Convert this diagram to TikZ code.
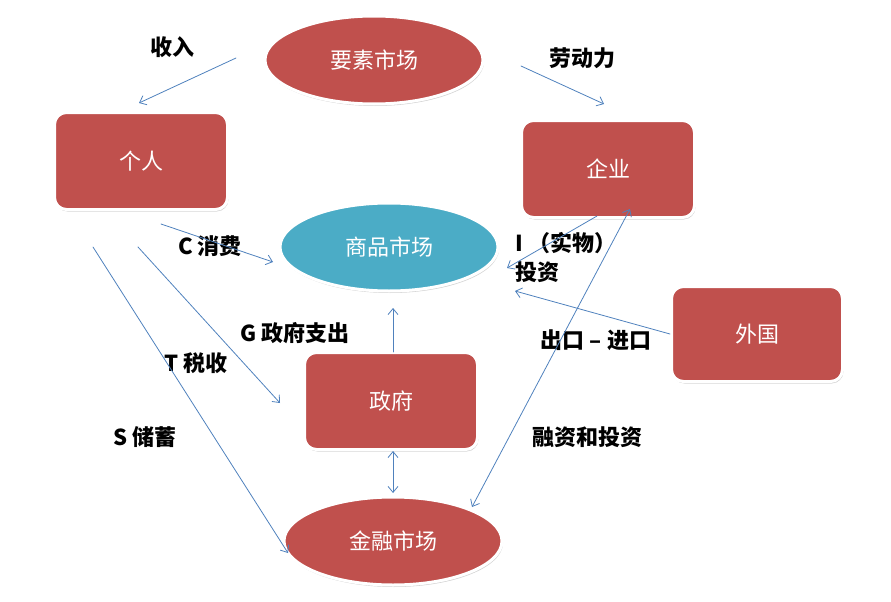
\documentclass[tikz,border=0pt]{standalone}
\usepackage{fontspec}
\setmainfont{Noto Sans CJK SC}
\usetikzlibrary{arrows.meta,shadows,shapes.geometric}
\definecolor{boxred}{HTML}{C0504D}
\definecolor{mktteal}{HTML}{4BACC6}
\definecolor{flowblue}{HTML}{4F81BD}
\begin{document}
\begin{tikzpicture}[x=1pt,y=-1pt,line join=round,line cap=round,>={Straight Barb[length=6pt,width=10pt]}]
\tikzset{every node/.style={font=\fontsize{22}{29}\selectfont},
  box/.style={draw=white,line width=3pt,fill=boxred,rounded corners=12pt,minimum width=173pt,minimum height=97pt,text=white,
    drop shadow={shadow xshift=1pt,shadow yshift=-2pt,opacity=0.35}},
  mkt/.style={ellipse,draw=white,line width=3pt,fill=boxred,minimum width=218pt,minimum height=88pt,inner sep=0pt,text=white,
    drop shadow={shadow xshift=1pt,shadow yshift=-2pt,opacity=0.35}},
  flow/.style={draw=flowblue,line width=0.8pt},
  lbl/.style={font=\fontsize{22}{29}\selectfont\bfseries}}
\useasboundingbox (0,0) rectangle (891,602);
% markets
\node[mkt] (yaosu) at (374,60) {要素市场};
\node[mkt,fill=mktteal] (shangpin) at (389,247) {商品市场};
\node[mkt] (jinrong) at (393,541) {金融市场};
% sectors
\node[box] (geren) at (141,161) {个人};
\node[box] (qiye) at (608,169) {企业};
\node[box,minimum width=171pt,minimum height=95pt] (waiguo) at (757,334) {外国};
\node[box] (zhengfu) at (391,401) {政府};
% flow labels
\node[lbl] (shouru) at (172,47) {收入};
\node[lbl] (laodong) at (582,58) {劳动力};
\node[lbl] (xiaofei) at (210,246) {C 消费};
\node[lbl] (zhichu) at (295,333) {G 政府支出};
\node[lbl] (shuishou) at (196,363) {T 税收};
\node[lbl] (chuxu) at (145,437) {S 储蓄};
\node[lbl,anchor=west,align=left] (touzi) at (512,257) {I （实物）\\投资};
\node[lbl] (jinchu) at (596,340) {出口 – 进口};
\node[lbl] (rongzi) at (587,437) {融资和投资};
% arrow ends
\coordinate (sr1) at (236,58); \coordinate (sr2) at (139,103);
\coordinate (ld1) at (521,66); \coordinate (ld2) at (604,104);
\coordinate (xf1) at (161,224); \coordinate (xf2) at (273,262);
\coordinate (zc1) at (138,247); \coordinate (zc2) at (280,403);
\coordinate (cx1) at (93,247); \coordinate (cx2) at (288,553);
\coordinate (zs1) at (393,352); \coordinate (zs2) at (393,308);
\coordinate (zj1) at (393,451); \coordinate (zj2) at (393,493);
\coordinate (tz1) at (597,216); \coordinate (tz2) at (507,268);
\coordinate (rz1) at (630,209); \coordinate (rz2) at (472,507);
\coordinate (ck2) at (515,291);
\foreach \a/\b in {sr1/sr2,ld1/ld2,xf1/xf2,zc1/zc2,cx1/cx2,zs1/zs2,tz1/tz2,waiguo.west/ck2}
\draw[flow,->] (\a)--(\b);
\draw[flow,<->] (zj1)--(zj2);
\draw[flow,<->] (rz1)--(rz2);
\end{tikzpicture}
\end{document}
